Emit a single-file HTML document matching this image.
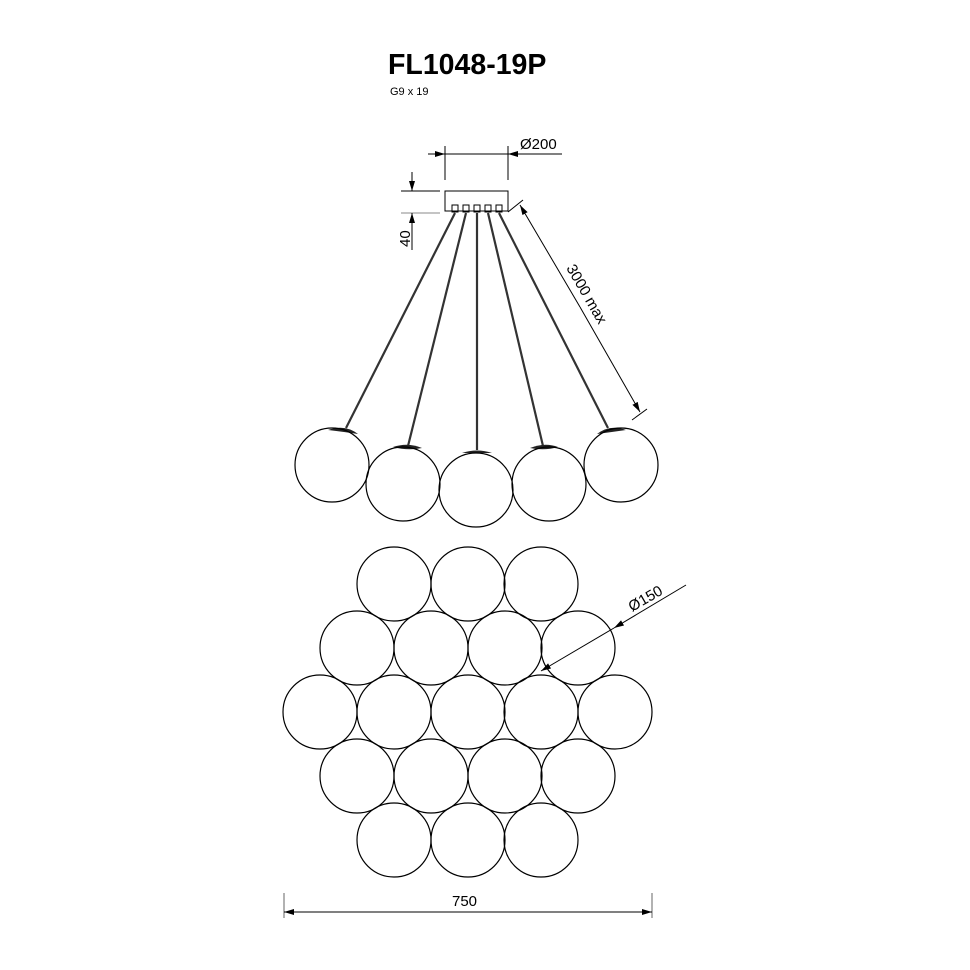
<!DOCTYPE html>
<html><head><meta charset="utf-8"><style>html,body{margin:0;padding:0;background:#fff}svg{display:block}</style></head><body>
<svg width="970" height="970" viewBox="0 0 970 970" xmlns="http://www.w3.org/2000/svg" font-family="Liberation Sans, sans-serif">
<defs>
<marker id="a" viewBox="0 0 10 6" refX="10" refY="3" markerWidth="10" markerHeight="6" markerUnits="userSpaceOnUse" orient="auto"><path d="M0,0 L10,3 L0,6z" fill="#000"/></marker>
</defs>
<text x="388" y="74" font-size="28.5" font-weight="bold">FL1048-19P</text>
<text x="390" y="95" font-size="11">G9 x 19</text>
<g stroke="#000" stroke-width="1" fill="none">
<line x1="445" y1="146" x2="445" y2="180"/><line x1="508" y1="146" x2="508" y2="180"/>
<line x1="428" y1="154" x2="445" y2="154" marker-end="url(#a)"/>
<line x1="445" y1="154" x2="508" y2="154"/>
<line x1="562" y1="154" x2="508" y2="154" marker-end="url(#a)"/>
<line x1="401" y1="191" x2="440" y2="191"/><line x1="401" y1="213" x2="440" y2="213" stroke="#888"/>
<line x1="412" y1="172" x2="412" y2="191" marker-end="url(#a)"/>
<line x1="412" y1="250" x2="412" y2="213" marker-end="url(#a)"/>
<rect x="445" y="191" width="63" height="20"/>
<rect x="452" y="205" width="6" height="7"/><rect x="463" y="205" width="6" height="7"/><rect x="474" y="205" width="6" height="7"/><rect x="485" y="205" width="6" height="7"/><rect x="496" y="205" width="6" height="7"/>
<line x1="508" y1="212" x2="523" y2="200"/>
<line x1="632" y1="420" x2="647" y2="409"/>
<line x1="580" y1="307" x2="520" y2="205" marker-end="url(#a)"/>
<line x1="580" y1="307" x2="640" y2="412" marker-end="url(#a)"/>
</g>
<g stroke="#333" stroke-width="2.2">
<line x1="455" y1="213" x2="346" y2="428"/>
<line x1="466" y1="213" x2="408" y2="446"/>
<line x1="477" y1="213" x2="477" y2="450"/>
<line x1="488" y1="213" x2="543" y2="446"/>
<line x1="499" y1="213" x2="608" y2="428"/>
</g>
<g fill="#222">
<path d="M328,430 Q345,424 358,434 Q345,432 328,430z"/>
<path d="M393,447 Q408,442 422,448 Q408,451 393,447z"/>
<path d="M462,453 Q477,448 492,453z"/>
<path d="M530,448 Q545,442 558,447 Q545,451 530,448z"/>
<path d="M597,434 Q610,424 626,430 Q612,432 597,434z"/>
</g>
<g stroke="#000" stroke-width="1.2" fill="none">
<circle cx="332" cy="465" r="37"/><circle cx="403" cy="484" r="37"/><circle cx="476" cy="490" r="37"/><circle cx="549" cy="484" r="37"/><circle cx="621" cy="465" r="37"/>
<circle cx="394" cy="584" r="37"/><circle cx="468" cy="584" r="37"/><circle cx="541" cy="584" r="37"/>
<circle cx="357" cy="648" r="37"/><circle cx="431" cy="648" r="37"/><circle cx="505" cy="648" r="37"/><circle cx="578" cy="648" r="37"/>
<circle cx="320" cy="712" r="37"/><circle cx="394" cy="712" r="37"/><circle cx="468" cy="712" r="37"/><circle cx="541" cy="712" r="37"/><circle cx="615" cy="712" r="37"/>
<circle cx="357" cy="776" r="37"/><circle cx="431" cy="776" r="37"/><circle cx="505" cy="776" r="37"/><circle cx="578" cy="776" r="37"/>
<circle cx="394" cy="840" r="37"/><circle cx="468" cy="840" r="37"/><circle cx="541" cy="840" r="37"/>
</g>
<g stroke="#000" stroke-width="1" fill="none">
<line x1="686" y1="585" x2="614" y2="628" marker-end="url(#a)"/>
<line x1="614" y1="628" x2="541" y2="671" marker-end="url(#a)"/>
<line x1="284" y1="893" x2="284" y2="918" stroke="#666"/><line x1="652" y1="893" x2="652" y2="918" stroke="#666"/>
<line x1="468" y1="912" x2="284" y2="912" marker-end="url(#a)"/>
<line x1="468" y1="912" x2="652" y2="912" marker-end="url(#a)"/>
</g>
<g font-size="15" fill="#000">
<text x="520" y="149">Ø200</text>
<text transform="translate(410,247) rotate(-90)">40</text>
<text transform="translate(566,268) rotate(60)">3000 max</text>
<text transform="translate(632,612) rotate(-30)">Ø150</text>
<text x="452" y="906">750</text>
</g>
</svg>
</body></html>
